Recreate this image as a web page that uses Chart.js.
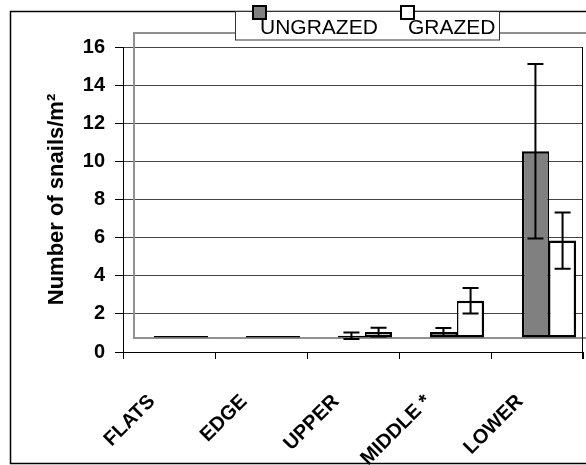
<!DOCTYPE html>
<html>
<head>
<meta charset="utf-8">
<script src="https://cdn.jsdelivr.net/npm/chart.js@4"></script>
<style>
    body { margin: 0; background: #fff; }
    #wrap { width: 586px; height: 465px; position: relative; }
</style>
</head>
<body>
<div id="wrap"><canvas id="snailChart"></canvas></div>
<script>
// Dados
const zones = ['FLATS', 'EDGE', 'UPPER', 'MIDDLE *', 'LOWER'];
const ungrazed = [0, 0, 0.12, 0.31, 9.8];
const ungrazedErr = [0, 0, 0.17, 0.21, 4.58];
const grazed = [0, 0, 0.31, 1.95, 5.11];
const grazedErr = [0, 0, 0.23, 0.67, 1.48];
const yTicks = [0, 2, 4, 6, 8, 10, 12, 14, 16];

Chart.defaults.font.family = "'Liberation Sans', Arial, sans-serif";
Chart.defaults.color = '#000';

// deslocamento do "fundo" 3D do Excel
const depthX = 12;
const depthY = -14;

const errorsByDataset = [ungrazedErr, grazedErr];

const depthPlugin = {
    id: 'depth',
    beforeDatasetsDraw(chart) {
        const {ctx, chartArea, scales} = chart;
        const base = scales.y.getPixelForValue(0) + depthY;
        ctx.save();
        ctx.strokeStyle = '#909090';
        ctx.lineWidth = 2;
        ctx.beginPath();
        ctx.moveTo(chartArea.right + 20, chartArea.top + depthY);
        ctx.lineTo(chartArea.left + depthX - 1, chartArea.top + depthY);
        ctx.lineTo(chartArea.left + depthX - 1, base);
        ctx.lineTo(chartArea.right + 20, base);
        ctx.stroke();
        ctx.restore();

        ctx.save();
        ctx.translate(depthX, depthY);
    },
    afterDatasetsDraw(chart) {
        const {ctx, scales} = chart;
        ctx.strokeStyle = '#000';
        ctx.lineWidth = 2;
        chart.data.datasets.forEach((ds, i) => {
            const meta = chart.getDatasetMeta(i);
            meta.data.forEach((bar, j) => {
                const err = errorsByDataset[i][j];
                if (!err) return;
                const v = ds.data[j];
                const yTop = scales.y.getPixelForValue(v + err);
                const yBot = scales.y.getPixelForValue(v - err);
                ctx.beginPath();
                ctx.moveTo(bar.x, yTop);
                ctx.lineTo(bar.x, yBot);
                ctx.moveTo(bar.x - 8, yTop);
                ctx.lineTo(bar.x + 8, yTop);
                ctx.moveTo(bar.x - 8, yBot);
                ctx.lineTo(bar.x + 8, yBot);
                ctx.stroke();
            });
        });
        ctx.restore();
    },
    afterDraw(chart) {
        const {ctx, chartArea} = chart;
        ctx.save();
        // linha da direita do grafico
        ctx.strokeStyle = '#000';
        ctx.lineWidth = 1;
        ctx.beginPath();
        ctx.moveTo(chartArea.right - 0.5, chartArea.top);
        ctx.lineTo(chartArea.right - 0.5, chartArea.bottom + 7);
        ctx.stroke();

        // borda externa
        ctx.lineWidth = 1.5;
        ctx.beginPath();
        ctx.moveTo(600, 11.5);
        ctx.lineTo(10.5, 11.5);
        ctx.lineTo(10.5, 463.5);
        ctx.lineTo(600, 463.5);
        ctx.stroke();

        // legenda
        ctx.fillStyle = '#fff';
        ctx.fillRect(235.5, 11.5, 264, 28.5);
        ctx.strokeStyle = '#333';
        ctx.lineWidth = 1;
        ctx.strokeRect(235.5, 11.5, 264, 28.5);

        const items = [
            {x: 253, text: chart.data.datasets[0].label, color: chart.data.datasets[0].backgroundColor},
            {x: 401, text: chart.data.datasets[1].label, color: chart.data.datasets[1].backgroundColor}
        ];
        ctx.font = "21px 'Liberation Sans', Arial, sans-serif";
        ctx.textBaseline = 'alphabetic';
        items.forEach(it => {
            ctx.fillStyle = '#000';
            ctx.fillText(it.text, it.x + 7, 33.5);
            ctx.fillStyle = it.color;
            ctx.fillRect(it.x, 6, 13, 13);
            ctx.strokeStyle = '#000';
            ctx.lineWidth = 2;
            ctx.strokeRect(it.x, 6, 13, 13);
        });
        ctx.restore();
    }
};

const ctx = document.getElementById('snailChart').getContext('2d');
const snailChart = new Chart(ctx, {
    type: 'bar',
    data: {
        labels: zones,
        datasets: [{
            label: 'UNGRAZED',
            data: ungrazed,
            backgroundColor: '#808080',
            borderColor: '#000',
            borderWidth: {left: 2.5, right: 1.5, top: 2.5, bottom: 2.5},
            borderSkipped: false
        }, {
            label: 'GRAZED',
            data: grazed,
            backgroundColor: '#ffffff',
            borderColor: '#000',
            borderWidth: {left: 1.5, right: 2.5, top: 2.5, bottom: 2.5},
            borderSkipped: false
        }]
    },
    options: {
        responsive: true,
        maintainAspectRatio: false,
        animation: false,
        layout: { padding: {top: 47, right: 3, left: 0, bottom: 0} },
        datasets: {
            bar: { categoryPercentage: 0.59, barPercentage: 1.0, minBarLength: 2 }
        },
        plugins: {
            legend: { display: false },
            tooltip: { enabled: false }
        },
        scales: {
            x: {
                offset: true,
                grid: { offset: true, drawOnChartArea: false, tickLength: 7, color: '#000' },
                border: { color: '#000', width: 1 },
                ticks: {
                    minRotation: 45,
                    maxRotation: 45,
                    autoSkip: false,
                    labelOffset: -17,
                    padding: 31,
                    font: { size: 20, weight: 'bold' }
                },
                afterFit(scale) { scale.height = 113; }
            },
            y: {
                min: 0,
                max: 16,
                afterBuildTicks(scale) { scale.ticks = yTicks.map(v => ({value: v})); },
                grid: { color: '#444', tickColor: '#000', tickLength: 8 },
                border: { color: '#000', width: 1 },
                ticks: {
                    padding: 10,
                    font: { size: 20, weight: 'bold' }
                },
                title: {
                    display: true,
                    text: 'Number of snails/m²',
                    font: { size: 22, weight: 'bold' },
                    padding: { top: 44, bottom: 0 }
                },
                afterFit(scale) { scale.width = 123; }
            }
        }
    },
    plugins: [depthPlugin]
});
</script>
</body>
</html>
